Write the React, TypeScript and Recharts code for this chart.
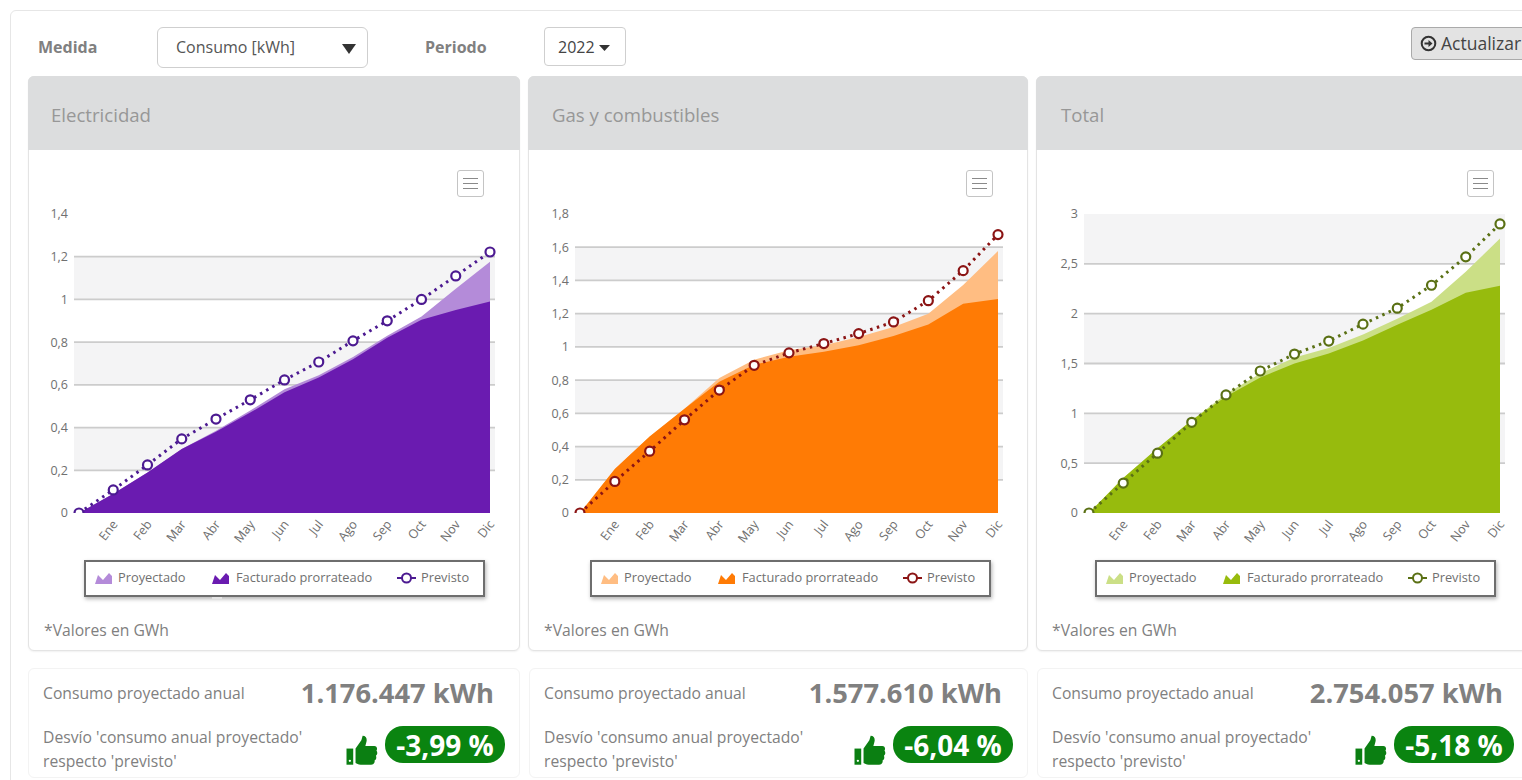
import {
  Area, CartesianGrid, ComposedChart, Legend, Line, XAxis, YAxis,
} from "recharts";

const FONT = '"Open Sans", sans-serif';
const TEXT = "#808080";
const TICK = "#707070";
const GRID = "#cccccc";
const BAND = "#f4f4f5";
const WHITE = "#ffffff";

const months = ["", "Ene", "Feb", "Mar", "Abr", "May", "Jun", "Jul", "Ago", "Sep", "Oct", "Nov", "Dic"];

const elecProyectado = [0, 0.09, 0.19, 0.3, 0.385, 0.48, 0.58, 0.645, 0.73, 0.83, 0.92, 1.05, 1.176];
const elecFacturado = [0, 0.09, 0.19, 0.3, 0.38, 0.47, 0.565, 0.635, 0.72, 0.82, 0.905, 0.95, 0.99];
const elecPrevisto = [0, 0.108, 0.225, 0.347, 0.44, 0.53, 0.623, 0.707, 0.806, 0.9, 1.0, 1.11, 1.222];
const elecTicks = [0, 0.2, 0.4, 0.6, 0.8, 1, 1.2, 1.4];
// stripes run from the top of the plot downwards
const elecStripes = [WHITE, BAND];

const gasProyectado = [0, 0.265, 0.46, 0.628, 0.813, 0.923, 0.98, 1.01, 1.06, 1.12, 1.2, 1.372, 1.577];
const gasFacturado = [0, 0.265, 0.46, 0.628, 0.79, 0.893, 0.94, 0.97, 1.01, 1.066, 1.135, 1.26, 1.288];
const gasPrevisto = [0, 0.19, 0.372, 0.561, 0.74, 0.889, 0.964, 1.02, 1.08, 1.15, 1.278, 1.459, 1.676];
const gasTicks = [0, 0.2, 0.4, 0.6, 0.8, 1, 1.2, 1.4, 1.6, 1.8];
const gasStripes = [WHITE, BAND];

const totalProyectado = [0, 0.35, 0.65, 0.93, 1.195, 1.4, 1.56, 1.655, 1.79, 1.95, 2.12, 2.42, 2.754];
const totalFacturado = [0, 0.35, 0.65, 0.93, 1.17, 1.36, 1.5, 1.6, 1.73, 1.89, 2.04, 2.21, 2.28];
const totalPrevisto = [0, 0.3, 0.6, 0.91, 1.185, 1.425, 1.595, 1.725, 1.895, 2.055, 2.285, 2.57, 2.9];
const totalTicks = [0, 0.5, 1, 1.5, 2, 2.5, 3];
const totalStripes = [BAND, WHITE];

const rows = (proyectado: number[], facturado: number[], previsto: number[]) =>
  months.map((mes, i) => ({ mes, proyectado: proyectado[i], facturado: facturado[i], previsto: previsto[i] }));

const abs = (left: number, top: number, extra: React.CSSProperties = {}): React.CSSProperties => ({
  position: "absolute", left, top, ...extra,
});

function Label({ x, y, size = 15.7, weight = 400, color = TEXT, children }: any) {
  return (
    <div style={abs(x, y, { fontSize: size, fontWeight: weight, color, lineHeight: "20px", whiteSpace: "nowrap" })}>
      {children}
    </div>
  );
}

function AreaIcon({ color }: { color: string }) {
  return (
    <svg width="17" height="12" viewBox="0 0 17 12">
      <path d="M0 12 L3 3 L8 8 L14 1 L17 4 L17 12 Z" fill={color} />
    </svg>
  );
}

function LegendBox({ payload, offset }: any) {
  const stops: Record<string, [number, number]> = {
    proyectado: [9, 32],
    facturado: [126, 150],
    previsto: [311, 335],
  };
  return (
    <div style={{
      position: "relative", marginLeft: offset, width: 397, height: 33, background: "#fff",
      border: "2px solid #6e6e6e", boxShadow: "1px 2px 4px rgba(0,0,0,0.3)", fontSize: 12.8, color: "#707070",
    }}>
      {(payload ?? []).map((entry: any) => {
        const [iconX, textX] = stops[entry.dataKey];
        return (
          <div key={entry.dataKey}>
            <div style={abs(iconX, entry.dataKey === "previsto" ? 9 : 8)}>
              {entry.dataKey === "previsto" ? (
                <svg width="19" height="14" viewBox="0 0 19 14">
                  <line x1="0" y1="7" x2="19" y2="7" stroke={entry.color} strokeWidth="2" />
                  <circle cx="9.5" cy="7" r="4.5" fill="#fff" stroke={entry.color} strokeWidth="2" />
                </svg>
              ) : <AreaIcon color={entry.color} />}
            </div>
            <div style={abs(textX, 7, { lineHeight: "17px", whiteSpace: "nowrap" })}>{entry.value}</div>
          </div>
        );
      })}
    </div>
  );
}

function MenuButton({ x }: { x: number }) {
  return (
    <div style={abs(x, 170, { width: 25, height: 25, border: "1.5px solid #c4c4c4", borderRadius: 3, background: "#fff" })}>
      {[7, 12, 17].map((t) => (
        <div key={t} style={abs(5, t, { width: 15, height: 1, background: "#8a8a8a" })} />
      ))}
    </div>
  );
}

function Thumb({ x }: { x: number }) {
  return (
    <svg style={abs(x, 735)} width="32" height="31" viewBox="0 0 24 24">
      <path d="M0 10.5h5.2V23H0z" fill="#0b7f12" />
      <circle cx="2.6" cy="20" r="0.9" fill="#fff" />
      <path d="M7 10.5 L11.5 4 L12.5 0.5 C15 0.5 16 2.5 15.5 5 L14.6 8.5 H21.5 C23.5 8.5 24.2 10.5 23.2 12 C24.2 13.5 24 15 22.8 16 C23.4 17.5 23 19 21.8 19.6 C22 21.5 21 23 19 23 H11 C9 23 8 22 7 21.6 Z" fill="#0b7f12" />
    </svg>
  );
}

// first point sits on the axis and only its top half shows
function Marker({ cx, cy, index, stroke }: any) {
  const r = 4.5;
  if (index === 0) {
    return (
      <path
        key={index} d={`M${cx - r} ${cy} A${r} ${r} 0 0 1 ${cx + r} ${cy}`}
        fill="#fff" stroke={stroke} strokeWidth={2.2}
      />
    );
  }
  return <circle key={index} cx={cx} cy={cy} r={r} fill="#fff" stroke={stroke} strokeWidth={2.2} />;
}

function Panel({ left, width, axisWidth, legendOffset, title, titleX, data, ticks, stripes, max, light, dark, line, menuX }: any) {
  return (
    <>
      <div style={abs(left, 76, {
        width: width, height: 575, boxSizing: "border-box", border: "1px solid #e4e4e4",
        borderRadius: 6, background: "#fff", boxShadow: "0 1px 2px rgba(0,0,0,0.06)",
      })} />
      <div style={abs(left, 76, { width: width, height: 74, background: "#dcddde", borderRadius: "6px 6px 0 0" })} />
      <Label x={titleX} y={105} size={18.6} color="#979797">{title}</Label>
      <MenuButton x={menuX} />
      <div style={abs(left, 190)}>
        <ComposedChart
          width={width - 1} height={410} data={data}
          margin={{ top: 24, right: 24, left: 0, bottom: 0 }}
        >
          <CartesianGrid vertical={false} strokeOpacity={0} horizontalFill={stripes} fillOpacity={1} />
          <CartesianGrid vertical={false} stroke={GRID} strokeWidth={1.8} horizontalValues={ticks.slice(1, -1)} />
          <XAxis
            dataKey="mes" scale="point" padding={{ left: 5, right: 5 }} interval={0} height={47}
            axisLine={false} tickLine={false} tickSize={0} tickMargin={6} angle={-52} textAnchor="end"
            tick={{ fontSize: 12.5, fill: TICK, fontFamily: FONT, dx: -2 }}
          />
          <YAxis
            width={axisWidth} domain={[0, max]} ticks={ticks} allowDataOverflow
            axisLine={false} tickLine={false} tickSize={0} tickMargin={6}
            tickFormatter={(v: number) => String(v).replace(".", ",")}
            tick={{ fontSize: 12.5, fill: TICK, fontFamily: FONT }}
          />
          <Area dataKey="proyectado" name="Proyectado" type="linear" fill={light} fillOpacity={1} stroke="none" isAnimationActive={false} />
          <Area dataKey="facturado" name="Facturado prorrateado" type="linear" fill={dark} fillOpacity={1} stroke="none" isAnimationActive={false} />
          <Line
            dataKey="previsto" name="Previsto" type="linear" stroke={line} strokeWidth={3} strokeDasharray="2.5 4.5"
            dot={(props: any) => <Marker {...props} stroke={line} />}
            isAnimationActive={false}
          />
          <Legend
            verticalAlign="bottom" height={40}
            content={(props: any) => <LegendBox payload={props.payload} offset={legendOffset} />}
          />
        </ComposedChart>
      </div>
      <Label x={left + 16} y={620}>*Valores en GWh</Label>
    </>
  );
}

function Summary({ left, width, kwh, desvio, thumbX, pillX }: any) {
  return (
    <>
      <div style={abs(left, 668, {
        width: width, height: 110, boxSizing: "border-box", border: "1px solid #f3f3f3", borderRadius: 6, background: "#fff",
      })} />
      <Label x={left + 15} y={683}>Consumo proyectado anual</Label>
      <div style={abs(left + width - 240 - 26, 675, {
        width: 240, textAlign: "right", fontSize: 27.3, fontWeight: 700, color: TEXT, lineHeight: "36px", whiteSpace: "nowrap",
      })}>{kwh}</div>
      <Label x={left + 15} y={727}>Desvío 'consumo anual proyectado'</Label>
      <Label x={left + 15} y={751}>respecto 'previsto'</Label>
      <Thumb x={thumbX} />
      <div style={abs(pillX, 726, {
        width: 120, height: 37, borderRadius: 18, background: "#0a8410", color: "#fff", fontSize: 28, fontWeight: 700,
        textAlign: "center", lineHeight: "38px",
      })}>{desvio}</div>
    </>
  );
}

export default function App() {
  return (
    <div style={{
      position: "fixed", left: 0, top: 0, width: 1522, height: 780, overflow: "hidden", background: "#fff", fontFamily: FONT,
    }}>
      <div style={abs(10, 10, { width: 1600, height: 800, border: "1px solid #e6e6e6", borderRadius: 6 })} />

      <Label x={38} y={37} size={16} weight={700}>Medida</Label>
      <div style={abs(157, 27, { width: 209, height: 39, border: "1px solid #cfcfcf", borderRadius: 6, background: "#fff" })} />
      <Label x={176} y={37} size={16} color="#555">Consumo [kWh]</Label>
      <svg style={abs(342, 44)} width="14" height="10"><path d="M0 0H14L7 10Z" fill="#333" /></svg>
      <Label x={425} y={37} size={16} weight={700}>Periodo</Label>
      <div style={abs(544, 27, { width: 80, height: 37, border: "1px solid #cfcfcf", borderRadius: 4, background: "#fff" })} />
      <Label x={558} y={37} size={16} color="#444">2022</Label>
      <svg style={abs(599, 45)} width="11" height="6"><path d="M0 0H11L5.5 6Z" fill="#333" /></svg>
      <div style={abs(1411, 27, { width: 130, height: 31, border: "1px solid #aaa", borderRadius: 4, background: "#e3e3e3" })} />
      <svg style={abs(1420, 35)} width="17" height="17" viewBox="0 0 17 17">
        <circle cx="8.5" cy="8.5" r="6.8" fill="none" stroke="#333" strokeWidth="2" />
        <path d="M4.5 7.5H8.5V5L12.5 8.5L8.5 12V9.5H4.5Z" fill="#333" />
      </svg>
      <Label x={1441} y={33} size={17.5} color="#444">Actualizar</Label>

      <Panel
        left={28} width={492} axisWidth={46} legendOffset={56} title="Electricidad" titleX={51} menuX={457}
        data={rows(elecProyectado, elecFacturado, elecPrevisto)} ticks={elecTicks} stripes={elecStripes} max={1.4}
        light="#b48bd9" dark="#6a1bb0" line="#4c1a91"
      />
      <Panel
        left={528} width={500} axisWidth={47} legendOffset={62} title="Gas y combustibles" titleX={552} menuX={966}
        data={rows(gasProyectado, gasFacturado, gasPrevisto)} ticks={gasTicks} stripes={gasStripes} max={1.8}
        light="#ffbd82" dark="#ff7b05" line="#8b1414"
      />
      <Panel
        left={1036} width={494} axisWidth={48} legendOffset={59} title="Total" titleX={1061} menuX={1467}
        data={rows(totalProyectado, totalFacturado, totalPrevisto)} ticks={totalTicks} stripes={totalStripes} max={3}
        light="#cbdf86" dark="#97bb0d" line="#5a7014"
      />
      <div style={abs(212, 597, { width: 10, height: 2, background: "#e4e4e4" })} />

      <Summary left={28} width={492} kwh="1.176.447 kWh" desvio="-3,99 %" thumbX={346} pillX={385} />
      <Summary left={529} width={499} kwh="1.577.610 kWh" desvio="-6,04 %" thumbX={854} pillX={893} />
      <Summary left={1037} width={492} kwh="2.754.057 kWh" desvio="-5,18 %" thumbX={1355} pillX={1394} />
    </div>
  );
}
